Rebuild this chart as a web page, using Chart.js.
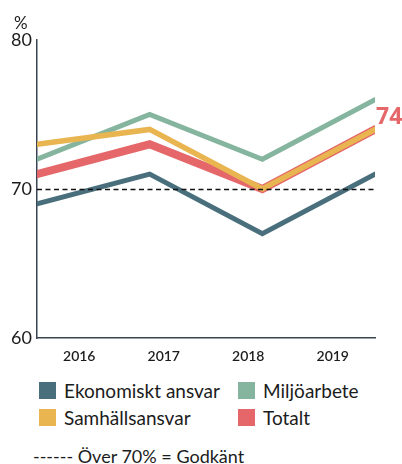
<!DOCTYPE html>
<html>
<head>
<meta charset="utf-8">
<script src="https://cdn.jsdelivr.net/npm/chart.js@4.4.0/dist/chart.umd.min.js"></script>
<style>
  body { margin: 0; background: #fff; font-family: Lato, "Noto Sans", sans-serif; color: #1c1c1c; }
  #wrap { position: relative; width: 402px; height: 372px; }
  #legend { display: grid; grid-template-columns: 199px 160px; row-gap: 10px; margin: 10px 0 0 39px; font-size: 19px; line-height: 17px; }
  #legend div { display: flex; align-items: center; height: 17px; }
  #legend span.box { width: 17px; height: 17px; margin-right: 8px; display: inline-block; }
  #note { margin: 20px 0 0 33px; font-size: 18px; line-height: 20px; }
</style>
</head>
<body>
<div id="wrap"><canvas id="grafico"></canvas></div>
<div id="legend"></div>
<div id="note">------ Över 70% = Godkänt</div>
<script>
// datos
const years = ['2016', '2017', '2018', '2019'];
const ekonomiskt = [69, 71, 67, 71];
const miljo = [72, 75, 72, 76];
const samhalle = [73, 74, 70, 74];
const totalt = [71, 73, 70, 74];
const yTicks = [60, 70, 80];
const threshold = 70;

const colores = {
    ekonomiskt: '#4a6f7c',
    miljo: '#85b59e',
    samhalle: '#e8b550',
    totalt: '#e5676a'
};

// línea discontinua en 70, texto "%" y etiqueta "74"
const extras = {
    id: 'extras',
    afterDatasetsDraw(chart) {
        const ctx = chart.ctx;
        const area = chart.chartArea;
        const y = Math.round(chart.scales.y.getPixelForValue(threshold)) + 0.5;
        ctx.save();
        ctx.strokeStyle = '#111';
        ctx.lineWidth = 1.3;
        ctx.setLineDash([5, 3.5]);
        ctx.beginPath();
        ctx.moveTo(area.left, y);
        ctx.lineTo(area.right, y);
        ctx.stroke();
        ctx.setLineDash([]);

        ctx.fillStyle = '#1c1c1c';
        ctx.font = '17px Lato, "Noto Sans", sans-serif';
        ctx.textAlign = 'left';
        ctx.textBaseline = 'alphabetic';
        ctx.fillText('%', 14, 29);

        const meta = chart.getDatasetMeta(3);
        const last = meta.data[meta.data.length - 1];
        ctx.fillStyle = colores.totalt;
        ctx.font = 'bold 23px "Noto Sans", sans-serif';
        ctx.fillText(String(totalt[totalt.length - 1]), last.x + 1, last.y - 5);
        ctx.restore();
    }
};

const elemento = document.getElementById('grafico').getContext('2d');
const myChart = new Chart(elemento, {
    type: 'line',
    data: {
        labels: years,
        datasets: [
            { label: 'Ekonomiskt ansvar', data: ekonomiskt, borderColor: colores.ekonomiskt, backgroundColor: colores.ekonomiskt, borderWidth: 5, order: 3 },
            { label: 'Miljöarbete', data: miljo, borderColor: colores.miljo, backgroundColor: colores.miljo, borderWidth: 5, order: 1 },
            { label: 'Samhällsansvar', data: samhalle, borderColor: colores.samhalle, backgroundColor: colores.samhalle, borderWidth: 5.5, order: 0 },
            { label: 'Totalt', data: totalt, borderColor: colores.totalt, backgroundColor: colores.totalt, borderWidth: 8, order: 2 }
        ]
    },
    options: {
        responsive: true,
        maintainAspectRatio: false,
        animation: false,
        layout: { padding: { top: 40, right: 27, left: 0, bottom: 0 } },
        elements: {
            point: { radius: 0, hoverRadius: 0 },
            line: { tension: 0, borderCapStyle: 'round', borderJoinStyle: 'miter' }
        },
        plugins: {
            legend: { display: false },
            tooltip: { enabled: false }
        },
        scales: {
            x: {
                type: 'linear',
                display: false,
                min: 2016,
                max: 2019
            },
            x2: {
                type: 'category',
                labels: years,
                position: 'bottom',
                offset: true,
                grid: { display: false, drawTicks: false },
                border: { display: true, color: '#3b4452', width: 1.5 },
                ticks: { color: '#1c1c1c', padding: 10, font: { family: 'Lato', size: 14, weight: '600' } },
                afterFit: (scale) => { scale.height = 34; }
            },
            y: {
                min: 60,
                max: 80,
                afterBuildTicks: (scale) => { scale.ticks = yTicks.map(v => ({ value: v })); },
                grid: { display: false, drawTicks: false },
                border: { display: true, color: '#3b4452', width: 1.5 },
                ticks: { color: '#1c1c1c', padding: 5, font: { family: 'Lato', size: 18 } },
                afterFit: (scale) => { scale.width = 37; }
            }
        }
    },
    plugins: [extras]
});

// leyenda en HTML, dos columnas
const orden = [0, 1, 2, 3];
const leyenda = document.getElementById('legend');
orden.forEach(i => {
    const ds = myChart.data.datasets[i];
    const item = document.createElement('div');
    item.innerHTML = '<span class="box" style="background:' + ds.borderColor + '"></span>' + ds.label;
    leyenda.appendChild(item);
});
</script>
</body>
</html>
